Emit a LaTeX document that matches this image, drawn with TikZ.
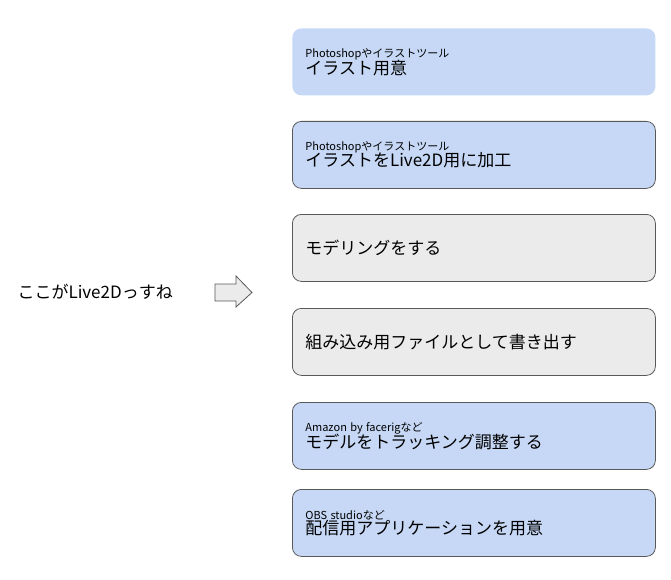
\documentclass[tikz,border=0pt]{standalone}
\usepackage{fontspec}
\setmainfont{Noto Sans CJK JP}
\usetikzlibrary{positioning}
\definecolor{stepblue}{HTML}{C6D8F5}
\definecolor{stepgray}{HTML}{EBEBEB}
\definecolor{stepline}{HTML}{595959}
\newcommand{\subtxt}[1]{{\fontsize{11}{13}\selectfont #1}}
\newcommand{\maintxt}[1]{{\fontsize{17}{20}\selectfont #1}}
\begin{document}
\begin{tikzpicture}[x=1pt,y=-1pt,
   stepbox/.style = {rounded corners=9pt, draw=stepline, line width=0.8pt,
      minimum width=363pt, minimum height=67pt, text width=337pt,
      inner xsep=13pt, align=left, anchor=north west},
   main/.style = {font=\fontsize{17}{20}\selectfont}
]
   \useasboundingbox (0,0) rectangle (671,580);

   % steps
   \node[stepbox, fill=stepblue, draw=none] (s1) at (292,28)
      {\subtxt{Photoshopやイラストツール}\\[-1pt]\maintxt{イラスト用意}};
   \node[stepbox, fill=stepblue] (s2) at (292,121)
      {\subtxt{Photoshopやイラストツール}\\[-1pt]\maintxt{イラストをLive2D用に加工}};
   \node[stepbox, fill=stepgray, main] (s3) at (292,214) {モデリングをする};
   \node[stepbox, fill=stepgray, main] (s4) at (292,308) {組み込み用ファイルとして書き出す};
   \node[stepbox, fill=stepblue] (s5) at (292,402)
      {\subtxt{Amazon by facerigなど}\\[-1pt]\maintxt{モデルをトラッキング調整する}};
   \node[stepbox, fill=stepblue] (s6) at (292,489)
      {\subtxt{OBS studioなど}\\[-1pt]\maintxt{配信用アプリケーションを用意}};

   % Live2D part
   \node[main, anchor=west] (live) at (14,292) {ここがLive2Dっすね};
   \draw[draw=stepline, fill=stepgray, line width=0.8pt]
      (215,284) -- (236,284) -- (236,276) -- (252,292.5) -- (236,307)
      -- (236,301) -- (215,301) -- cycle;
\end{tikzpicture}
\end{document}
